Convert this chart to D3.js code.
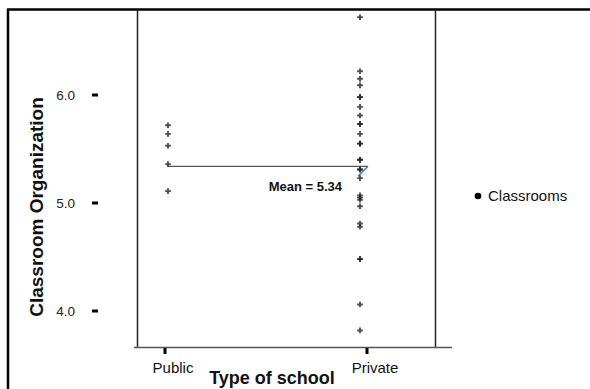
<!DOCTYPE html>
<html>
<head>
<meta charset="utf-8">
<script src="https://cdn.jsdelivr.net/npm/d3@7"></script>
<style>
  html, body { margin: 0; padding: 0; background: #fff; }
  svg { display: block; font-family: Arial, "Liberation Sans", sans-serif; }
</style>
</head>
<body>
<svg id="chart" width="590" height="389"></svg>
<script>
// Classroom Organization scores by type of school
const categories = ["Public", "Private"];
const publicValues = [5.72, 5.64, 5.53, 5.36, 5.11];
const privateValues = [6.72, 6.22, 6.15, 6.09, 5.98, 5.98, 5.89, 5.81, 5.73, 5.73,
  5.64, 5.55, 5.55, 5.40, 5.40, 5.31, 5.31, 5.23, 5.07, 5.05, 5.03, 4.97,
  4.81, 4.78, 4.48, 4.48, 4.06, 3.82];
const meanValue = 5.34;
const yTickValues = [4, 5, 6];
const yTitle = "Classroom Organization";
const xTitle = "Type of school";
const legendLabel = "Classrooms";

const svg = d3.select("#chart");

const x = d3.scalePoint().domain(categories).range([165, 367]);
const y = d3.scaleLinear().domain([4, 6]).range([311, 95]);

// point columns sit slightly off their tick positions
const columnShift = { Public: 3, Private: -7 };

// outer frame
svg.append("line").attr("x1", 7).attr("x2", 590).attr("y1", 9.5).attr("y2", 9.5)
  .attr("stroke", "#000").attr("stroke-width", 2.5);
svg.append("line").attr("x1", 8).attr("x2", 8).attr("y1", 9).attr("y2", 389)
  .attr("stroke", "#000").attr("stroke-width", 2.5);

// plot frame
svg.append("line").attr("x1", 137.5).attr("x2", 137.5).attr("y1", 10).attr("y2", 347)
  .attr("stroke", "#222").attr("stroke-width", 1.5);
svg.append("line").attr("x1", 435.5).attr("x2", 435.5).attr("y1", 10).attr("y2", 347)
  .attr("stroke", "#222").attr("stroke-width", 1.5);
svg.append("line").attr("x1", 134).attr("x2", 452).attr("y1", 347.5).attr("y2", 347.5)
  .attr("stroke", "#555").attr("stroke-width", 1.5);

// y axis ticks
const yAxis = svg.append("g");
yTickValues.forEach(v => {
  yAxis.append("line").attr("x1", 92).attr("x2", 98).attr("y1", y(v)).attr("y2", y(v))
    .attr("stroke", "#000").attr("stroke-width", 3);
  yAxis.append("text").attr("x", 75).attr("y", y(v)).attr("dy", "0.38em")
    .attr("text-anchor", "end").attr("font-size", 13.5).attr("fill", "#222")
    .text(d3.format(".1f")(v));
});

// x axis ticks; labels sit a little right of their tick
const xAxis = svg.append("g");
categories.forEach(c => {
  xAxis.append("line").attr("x1", x(c)).attr("x2", x(c)).attr("y1", 348).attr("y2", 354)
    .attr("stroke", "#000").attr("stroke-width", 3);
  xAxis.append("text").attr("x", x(c) + 8).attr("y", 372.5)
    .attr("text-anchor", "middle").attr("font-size", 15).attr("fill", "#111")
    .text(c);
});

// axis titles
svg.append("text").attr("x", 272).attr("y", 384).attr("text-anchor", "middle")
  .attr("font-size", 18).attr("font-weight", "bold").attr("fill", "#111").text(xTitle);
svg.append("text").attr("transform", "translate(43,207) rotate(-90)")
  .attr("text-anchor", "middle").attr("font-size", 19).attr("font-weight", "bold")
  .attr("fill", "#111").text(yTitle);

// mean reference line
const yMean = y(meanValue);
svg.append("line")
  .attr("x1", x("Public") + columnShift.Public).attr("x2", x("Private") + 1)
  .attr("y1", yMean).attr("y2", yMean)
  .attr("stroke", "#555").attr("stroke-width", 1.3);
svg.append("line")
  .attr("x1", x("Private") - 9).attr("y1", yMean + 10)
  .attr("x2", x("Private") + 1).attr("y2", yMean)
  .attr("stroke", "#3a6fb0").attr("stroke-width", 1.2);
svg.append("text").attr("x", 342).attr("y", yMean + 25).attr("text-anchor", "end")
  .attr("font-size", 13).attr("font-weight", "bold").attr("fill", "#111")
  .text("Mean = " + d3.format(".2f")(meanValue));

// points
const marker = d3.symbol().type(d3.symbolCross).size(18);
const points = [
  ...publicValues.map(v => ({ c: "Public", v })),
  ...privateValues.map(v => ({ c: "Private", v }))
];
svg.append("g").selectAll("path").data(points).join("path")
  .attr("d", marker)
  .attr("transform", d => `translate(${x(d.c) + columnShift[d.c]},${y(d.v)})`)
  .attr("fill", "#222").attr("fill-opacity", 0.8);

// legend
svg.append("circle").attr("cx", 478).attr("cy", 196).attr("r", 3.3).attr("fill", "#000");
svg.append("text").attr("x", 488).attr("y", 201).attr("font-size", 15).attr("fill", "#111")
  .text(legendLabel);
</script>
</body>
</html>
